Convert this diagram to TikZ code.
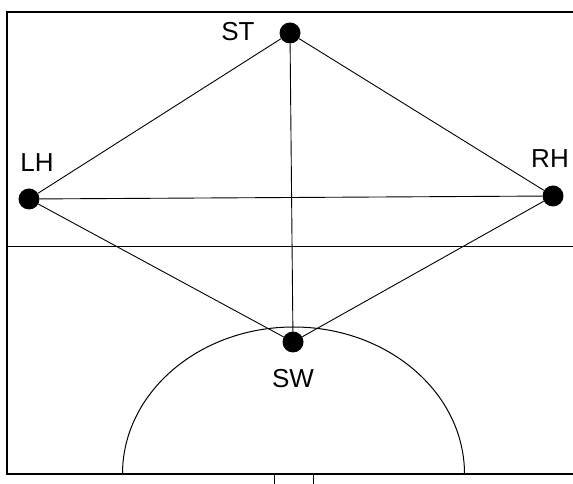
\documentclass[tikz,border=0pt]{standalone}
\usepackage{fontspec}
\setmainfont{Liberation Sans}
\begin{document}
\begin{tikzpicture}[x=1pt,y=1pt,
  dot/.style={circle,fill=black,inner sep=0pt,minimum size=21pt},
  lbl/.style={font=\fontsize{26}{30}\selectfont,inner sep=0pt},
  thin line/.style={line width=0.9pt},
  frame line/.style={line width=1.4pt}]
\useasboundingbox (0,0) rectangle (573,484);
% frame
\draw[frame line] (573,472) -- (7,472) -- (7,10) -- (573,10);
\draw[thin line] (7,238) -- (573,238);
% arc
\draw[line width=1pt] (122.5,10) arc[start angle=180,end angle=0,x radius=171,y radius=147];
% bottom legs
\coordinate (b1) at (274,10); \coordinate (b1e) at (274,0);
\coordinate (b2) at (313,10); \coordinate (b2e) at (313,0);
\draw[thin line] (b1) -- (b1e) (b2) -- (b2e);
% nodes
\node[dot] (ST) at (290,451) {};
\node[dot] (LH) at (29,285) {};
\node[dot] (RH) at (553,288) {};
\node[dot] (SW) at (293,142) {};
\node[lbl] at (238,452) {ST};
\node[lbl] at (37,321) {LH};
\node[lbl] at (550,325) {RH};
\node[lbl] at (293,105) {SW};
% connectors
\draw[thin line] (ST) -- (LH);
\draw[thin line] (ST) -- (RH);
\draw[thin line] (ST) -- (SW);
\draw[thin line] (LH) -- (RH);
\draw[thin line] (LH) -- (SW);
\draw[thin line] (RH) -- (SW);
\end{tikzpicture}
\end{document}
